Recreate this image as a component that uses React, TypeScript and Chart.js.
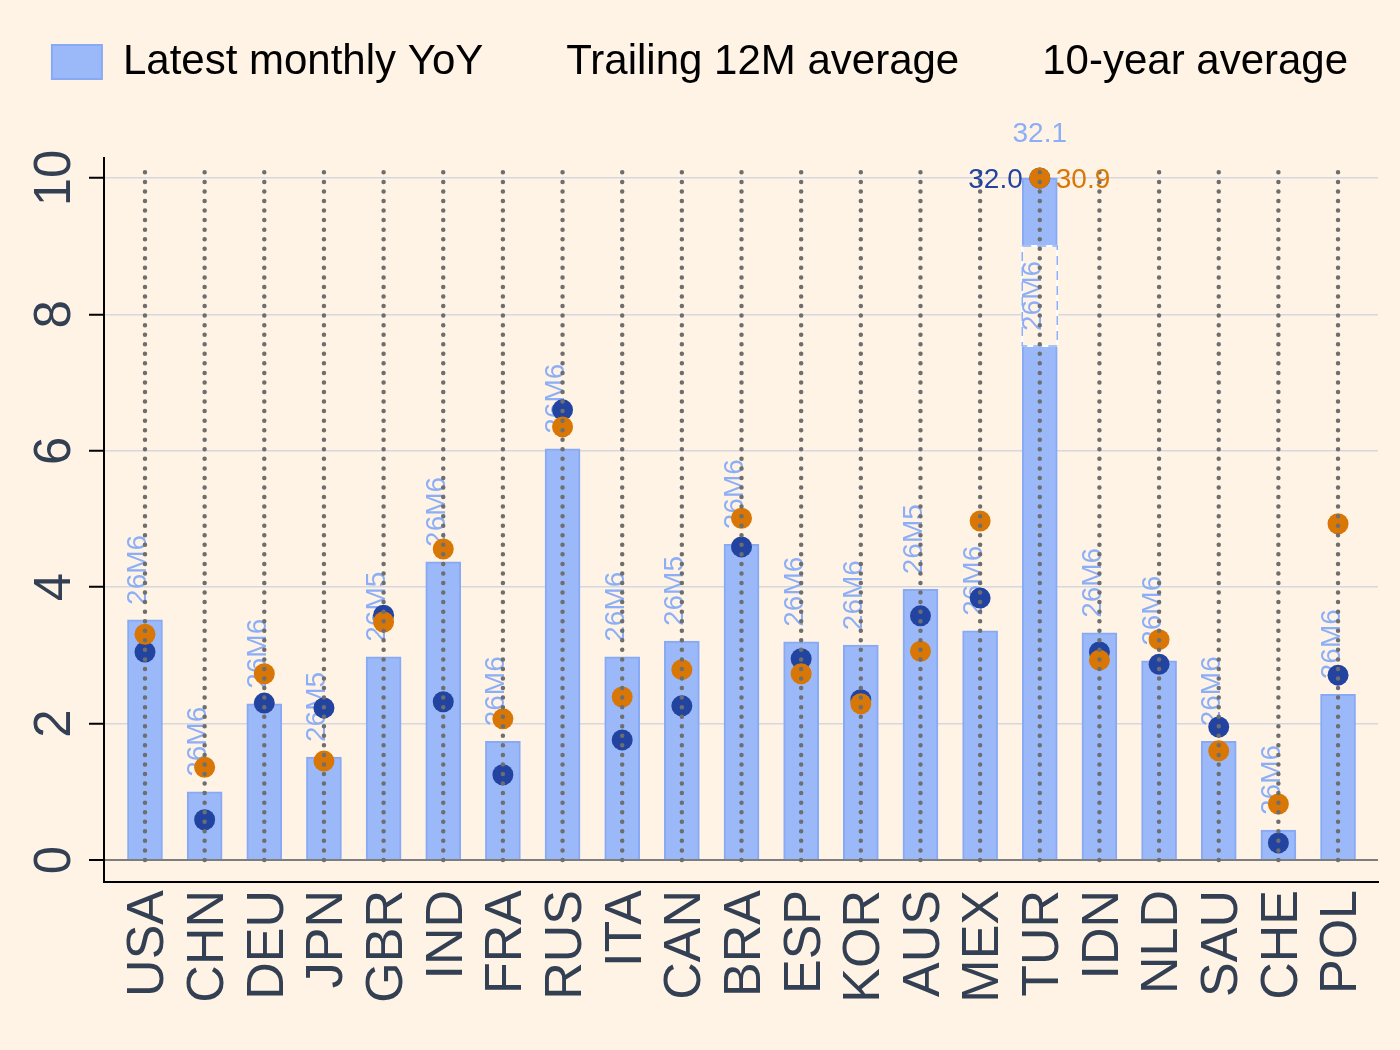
import { useEffect, useRef } from 'react';
import { Chart, registerables } from 'chart.js';

Chart.register(...registerables);

// Countries in plotting order
const CATEGORIES = ['USA', 'CHN', 'DEU', 'JPN', 'GBR', 'IND', 'FRA', 'RUS', 'ITA', 'CAN', 'BRA', 'ESP', 'KOR', 'AUS', 'MEX', 'TUR', 'IDN', 'NLD', 'SAU', 'CHE', 'POL'];

// Latest monthly YoY inflation (%)
const LATEST_YOY = [3.52, 1.0, 2.29, 1.51, 2.98, 4.37, 1.74, 6.03, 2.98, 3.21, 4.63, 3.2, 3.15, 3.97, 3.36, 32.1, 3.33, 2.92, 1.74, 0.44, 2.43];

// Trailing 12-month average (%)
const TRAILING_12M = [3.05, 0.59, 2.3, 2.23, 3.59, 2.32, 1.25, 6.6, 1.76, 2.26, 4.59, 2.95, 2.35, 3.58, 3.84, 32.0, 3.05, 2.87, 1.95, 0.25, 2.71];

// 10-year average (%)
const TEN_YEAR = [3.31, 1.36, 2.73, 1.45, 3.49, 4.56, 2.07, 6.35, 2.39, 2.79, 5.01, 2.73, 2.29, 3.06, 4.97, 30.9, 2.93, 3.23, 1.6, 0.82, 4.93];

// Month of the latest observation
const PERIODS = ['26M6', '26M6', '26M6', '26M5', '26M5', '26M6', '26M6', '26M6', '26M6', '26M5', '26M6', '26M6', '26M6', '26M5', '26M6', '26M6', '26M6', '26M6', '26M6', '26M6', '26M6'];

const SERIES_NAMES = ['Latest monthly YoY', 'Trailing 12M average', '10-year average'];

const Y_TICKS = [0, 2, 4, 6, 8, 10];
const Y_CAP = 10; // values above this are pinned to the top and annotated

const BG = '#fef3e5';
const BAR_FILL = '#9bb9f8';
const BAR_EDGE = '#88a9f4';
const LABEL_BLUE = '#8caef6';
const DOT_BLUE = '#2244a0';
const DOT_ORANGE = '#d97706';
const AXIS_TEXT = '#333f52';
const FONT = '"Liberation Sans", Arial, sans-serif';

const capped = (v: number) => Math.min(v, Y_CAP);
const toPoints = (vals: number[]) => vals.map((v, i) => ({ x: i, y: capped(v) }));

const backgroundPlugin = {
  id: 'pageBackground',
  beforeDraw(chart: any) {
    const { ctx, width, height } = chart;
    ctx.save();
    ctx.fillStyle = BG;
    ctx.fillRect(0, 0, width, height);
    ctx.restore();
  },
};

// Leaves room between the legend row and the plot
const legendGapPlugin = {
  id: 'legendGap',
  beforeLayout(chart: any) {
    const lg = chart.legend;
    if (lg && !lg._gapAdded) {
      const fit = lg.fit.bind(lg);
      lg.fit = () => {
        fit();
        lg.height += 65;
      };
      lg._gapAdded = true;
    }
  },
};

// Period labels above each bar (drawn right after the bars, beneath the dots)
const periodLabelPlugin = {
  id: 'periodLabels',
  afterDatasetDraw(chart: any, args: any) {
    if (args.index !== 0) return;
    const { ctx, scales } = chart;
    const xs = scales.x;
    const ys = scales.y;
    ctx.save();
    ctx.font = `28px ${FONT}`;
    ctx.fillStyle = LABEL_BLUE;
    LATEST_YOY.forEach((v, i) => {
      const xc = xs.getPixelForValue(i);
      if (v > Y_CAP) {
        const half = 17.5;
        const top = ys.getPixelForValue(Y_CAP) + 68;
        const h = 100;
        ctx.fillStyle = BG;
        ctx.fillRect(xc - half, top, half * 2, h);
        ctx.strokeStyle = '#ffffff';
        ctx.lineWidth = 2;
        ctx.strokeRect(xc - half, top, half * 2, h);
        ctx.setLineDash([9, 6]);
        ctx.strokeStyle = LABEL_BLUE;
        ctx.lineWidth = 1.5;
        ctx.strokeRect(xc - half, top, half * 2, h);
        ctx.setLineDash([]);
        ctx.save();
        ctx.translate(xc + 1, top + h / 2);
        ctx.rotate(-Math.PI / 2);
        ctx.fillStyle = LABEL_BLUE;
        ctx.textAlign = 'center';
        ctx.textBaseline = 'alphabetic';
        ctx.fillText(PERIODS[i], 0, 0);
        ctx.restore();
      } else {
        const yTop = ys.getPixelForValue(v);
        ctx.save();
        ctx.translate(xc + 1.5, yTop - 15);
        ctx.rotate(-Math.PI / 2);
        ctx.fillStyle = LABEL_BLUE;
        ctx.textAlign = 'left';
        ctx.textBaseline = 'alphabetic';
        ctx.fillText(PERIODS[i], 0, 0);
        ctx.restore();
      }
    });
    ctx.restore();
  },
};

// Dotted guide lines through each country, plus value notes for pinned points
const guidePlugin = {
  id: 'guides',
  afterDatasetsDraw(chart: any) {
    const { ctx, scales, chartArea } = chart;
    const xs = scales.x;
    const ys = scales.y;
    const y0 = ys.getPixelForValue(0);
    ctx.save();
    ctx.strokeStyle = '#6e6e6e';
    ctx.lineWidth = 4.5;
    ctx.lineCap = 'round';
    ctx.setLineDash([0, 9.55]);
    CATEGORIES.forEach((_, i) => {
      const x = xs.getPixelForValue(i);
      ctx.beginPath();
      ctx.moveTo(x, y0);
      ctx.lineTo(x, chartArea.top + 9);
      ctx.stroke();
    });
    ctx.setLineDash([]);

    ctx.font = `28px ${FONT}`;
    ctx.textBaseline = 'middle';
    CATEGORIES.forEach((_, i) => {
      const xc = xs.getPixelForValue(i);
      const yCap = ys.getPixelForValue(Y_CAP);
      if (LATEST_YOY[i] > Y_CAP) {
        ctx.fillStyle = LABEL_BLUE;
        ctx.textAlign = 'center';
        ctx.fillText(LATEST_YOY[i].toFixed(1), xc, yCap - 44);
      }
      if (TRAILING_12M[i] > Y_CAP) {
        ctx.fillStyle = DOT_BLUE;
        ctx.textAlign = 'right';
        ctx.fillText(TRAILING_12M[i].toFixed(1), xc - 17, yCap + 2);
      }
      if (TEN_YEAR[i] > Y_CAP) {
        ctx.fillStyle = DOT_ORANGE;
        ctx.textAlign = 'left';
        ctx.fillText(TEN_YEAR[i].toFixed(1), xc + 16, yCap + 2);
      }
    });
    ctx.restore();
  },
};

export default function App() {
  const canvasRef = useRef<HTMLCanvasElement | null>(null);

  useEffect(() => {
    const canvas = canvasRef.current;
    if (!canvas) return;

    const chart = new Chart(canvas, {
      type: 'bar',
      data: {
        datasets: [
          {
            type: 'bar',
            label: SERIES_NAMES[0],
            data: toPoints(LATEST_YOY),
            backgroundColor: BAR_FILL,
            borderColor: BAR_EDGE,
            borderWidth: 2,
            barThickness: 35,
            order: 3,
          },
          {
            type: 'line',
            label: SERIES_NAMES[1],
            data: toPoints(TRAILING_12M),
            showLine: false,
            pointRadius: 10.5,
            pointHoverRadius: 10.5,
            pointBorderWidth: 0,
            pointBackgroundColor: DOT_BLUE,
            borderColor: DOT_BLUE,
            order: 2,
          },
          {
            type: 'line',
            label: SERIES_NAMES[2],
            data: toPoints(TEN_YEAR),
            showLine: false,
            pointRadius: 10.5,
            pointHoverRadius: 10.5,
            pointBorderWidth: 0,
            pointBackgroundColor: DOT_ORANGE,
            borderColor: DOT_ORANGE,
            order: 1,
          },
        ] as any,
      },
      options: {
        responsive: false,
        devicePixelRatio: 1,
        animation: false,
        events: [],
        layout: { padding: { top: 29, left: 0, right: 0, bottom: 0 } },
        plugins: {
          tooltip: { enabled: false },
          legend: {
            position: 'top',
            align: 'center',
            labels: {
              font: { family: FONT, size: 42 },
              color: '#000000',
              boxWidth: 50,
              boxHeight: 34,
              padding: 12,
              generateLabels: (c: any) =>
                c.data.datasets.map((ds: any, i: number) => ({
                  text: ds.label,
                  fillStyle: i === 0 ? BAR_FILL : 'rgba(0,0,0,0)',
                  strokeStyle: i === 0 ? BAR_EDGE : 'rgba(0,0,0,0)',
                  lineWidth: i === 0 ? 2 : 0,
                  hidden: false,
                  datasetIndex: i,
                  fontColor: '#000000',
                })),
            },
          },
        },
        scales: {
          x: {
            type: 'linear',
            offset: false,
            min: -0.687,
            max: 20.67,
            afterBuildTicks: (s: any) => {
              s.ticks = CATEGORIES.map((_, i) => ({ value: i }));
            },
            afterFit: (s: any) => {
              s.height = 168;
              s.paddingLeft = 0;
              s.paddingRight = 22;
            },
            ticks: {
              autoSkip: false,
              minRotation: 90,
              maxRotation: 90,
              padding: 8,
              labelOffset: 4,
              color: AXIS_TEXT,
              font: { family: FONT, size: 52 },
              callback: (v: any) => CATEGORIES[v] ?? '',
            },
            grid: { display: false, drawTicks: false, offset: false },
            border: { display: true, color: '#000000', width: 2 },
          },
          y: {
            type: 'linear',
            min: -0.323,
            max: 10.293,
            afterBuildTicks: (s: any) => {
              s.ticks = Y_TICKS.map((v) => ({ value: v }));
            },
            afterFit: (s: any) => {
              s.width = 104;
            },
            ticks: {
              minRotation: 90,
              maxRotation: 90,
              crossAlign: 'center',
              padding: 5,
              color: AXIS_TEXT,
              font: { family: FONT, size: 51 },
              callback: (v: any) => String(v),
            },
            grid: {
              color: (c: any) => (c.tick && c.tick.value === 0 ? '#7d7d7d' : '#d5d8de'),
              lineWidth: (c: any) => (c.tick && c.tick.value === 0 ? 2 : 1.5),
              tickLength: 15,
              tickColor: '#000000',
              tickWidth: 2,
            },
            border: { display: true, color: '#000000', width: 2 },
          },
        },
      } as any,
      plugins: [backgroundPlugin, legendGapPlugin, periodLabelPlugin, guidePlugin],
    });

    return () => chart.destroy();
  }, []);

  return (
    <div style={{ position: 'absolute', left: 0, top: 0, width: 1400, height: 1050, background: BG }}>
      <canvas ref={canvasRef} width={1400} height={1050} style={{ display: 'block' }} />
    </div>
  );
}
